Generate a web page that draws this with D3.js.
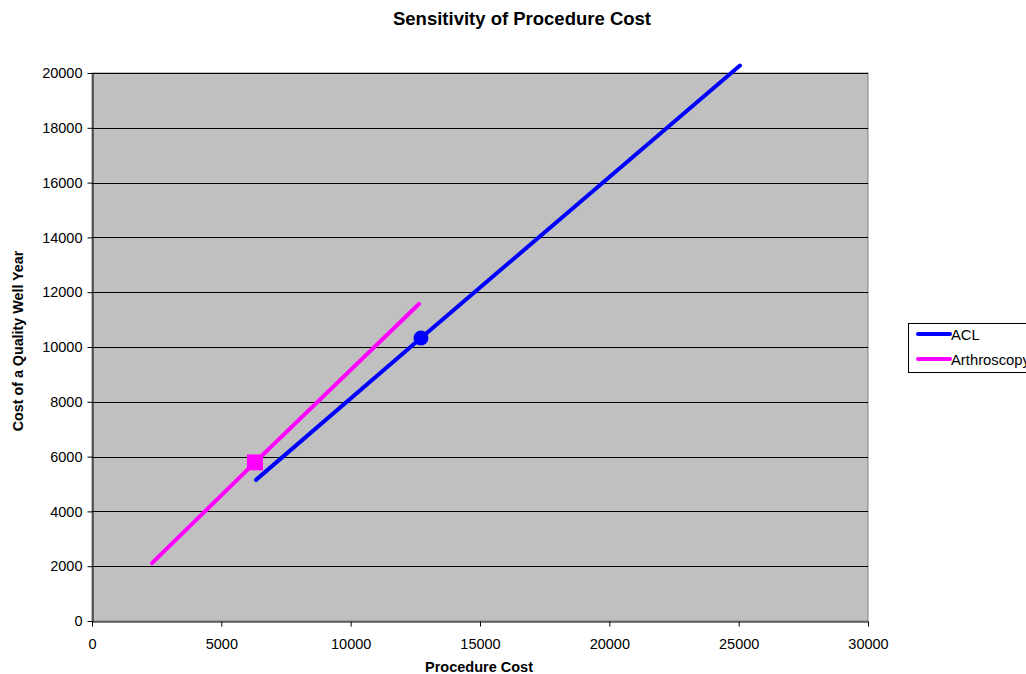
<!DOCTYPE html>
<html><head><meta charset="utf-8">
<script src="https://cdn.jsdelivr.net/npm/d3@7"></script>
<style>body{margin:0;background:#fff;} text{font-family:"Liberation Sans",Arial,sans-serif;}</style>
</head><body>
<svg id="c" width="1026" height="674"></svg>
<script>
const aclX = [6340, 12718, 25050];
const aclY = [5150, 10330, 20270];
const arthX = [2320, 6300, 12640];
const arthY = [2110, 5790, 11570];
const xTicks = [0, 5000, 10000, 15000, 20000, 25000, 30000];
const yTicks = [0, 2000, 4000, 6000, 8000, 10000, 12000, 14000, 16000, 18000, 20000];
const seriesNames = ["ACL", "Arthroscopy"];
const colors = ["#0000FF", "#FF00FF"];

const svg = d3.select("#c");
const L = 92, R = 868, T = 73, B = 621;
const x = d3.scaleLinear().domain([0, 30000]).range([L, R]);
const y = d3.scaleLinear().domain([0, 20000]).range([B, T]);

svg.append("rect").attr("x", L).attr("y", T).attr("width", R - L).attr("height", B - T)
  .attr("fill", "#C0C0C0").attr("stroke", "#808080").attr("stroke-width", 1);

// gridlines
svg.append("g").selectAll("line").data(yTicks.filter(d => d > 0)).join("line")
  .attr("x1", L).attr("x2", R).attr("y1", d => Math.round(y(d)) + 0.5).attr("y2", d => Math.round(y(d)) + 0.5)
  .attr("stroke", "#000").attr("stroke-width", 1);

// axes
const xa = svg.append("g").attr("transform", `translate(0,${B + 0.5})`)
  .call(d3.axisBottom(x).tickValues(xTicks).tickSize(5).tickSizeOuter(0).tickFormat(d3.format("d")));
const ya = svg.append("g").attr("transform", `translate(${L + 0.5},0)`)
  .call(d3.axisLeft(y).tickValues(yTicks).tickSize(5).tickSizeOuter(0).tickFormat(d3.format("d")));
[xa, ya].forEach(a => {
  a.selectAll("path.domain").attr("stroke", "#000");
  a.selectAll(".tick line").attr("stroke", "#000");
  a.selectAll("text").attr("font-size", 14.5).attr("fill", "#000").style("font-family", "Liberation Sans, Arial, sans-serif");
});
xa.selectAll("text").attr("dy", null).attr("y", 27);
ya.selectAll("text").attr("x", -10);

// lines
const data = [aclX.map((v, i) => [v, aclY[i]]), arthX.map((v, i) => [v, arthY[i]])];
const line = d3.line().x(d => x(d[0])).y(d => y(d[1]));
data.forEach((s, i) => {
  svg.append("path").attr("d", line(s)).attr("fill", "none").attr("stroke", colors[i])
    .attr("stroke-width", 4).attr("stroke-linecap", "round").attr("stroke-linejoin", "round");
});
// markers at base case
svg.append("circle").attr("cx", x(aclX[1])).attr("cy", y(aclY[1])).attr("r", 7.5).attr("fill", colors[0]);
svg.append("rect").attr("x", x(arthX[1]) - 8).attr("y", y(arthY[1]) - 8).attr("width", 16).attr("height", 16).attr("fill", colors[1]);

// titles
svg.append("text").attr("x", 522).attr("y", 25).attr("text-anchor", "middle").attr("font-size", 18.5).attr("font-weight", "bold").text("Sensitivity of Procedure Cost");
svg.append("text").attr("x", 479).attr("y", 672).attr("text-anchor", "middle").attr("font-size", 14.5).attr("font-weight", "bold").text("Procedure Cost");
svg.append("text").attr("transform", `translate(23,${(T + B) / 2 - 6}) rotate(-90)`).attr("text-anchor", "middle").attr("font-size", 14.3).attr("font-weight", "bold").text("Cost of a Quality Well Year");

// legend
const lg = svg.append("g");
lg.append("rect").attr("x", 908.5).attr("y", 323.5).attr("width", 130).attr("height", 49).attr("fill", "#fff").attr("stroke", "#000");
seriesNames.forEach((n, i) => {
  const yy = 334 + i * 25;
  lg.append("line").attr("x1", 918).attr("x2", 950).attr("y1", yy).attr("y2", yy).attr("stroke", colors[i]).attr("stroke-width", 4).attr("stroke-linecap", "round");
  lg.append("text").attr("x", 951).attr("y", yy + 6).attr("font-size", 14.8).text(n);
});
</script>
</body></html>
